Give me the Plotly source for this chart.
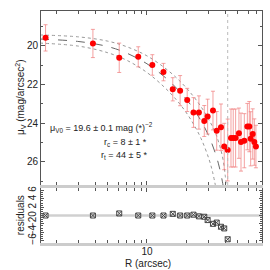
import plotly.graph_objects as go

# ---- data ----
r_obs = [1.66, 3.84, 6.12, 8.57, 11.0, 13.4, 15.8, 18.0, 20.4, 22.8, 25.1, 27.6, 29.3, 32.2,
         34.4, 37.1, 39.3, 41.8, 44.3, 46.1, 48.1, 51.0, 52.9, 56.1, 59.2, 61.3, 62.8, 65.1, 67.0, 68.9]
mu_obs = [19.59, 19.88, 20.62, 20.57, 20.99, 21.36, 22.25, 22.32, 22.80, 23.45, 23.45, 23.89, 23.66, 23.35,
          24.40, 24.21, 25.21, 25.39, 24.77, 24.77, 24.77, 24.52, 24.98, 24.91, 24.18, 24.18, 24.81, 24.56, 24.98, 25.21]
mu_err = [0.68, 0.73, 0.76, 0.52, 0.53, 0.45, 0.6, 0.78, 0.6, 0.77, 0.86, 0.8, 0.9, 1.0,
          1.0, 1.2, 1.2, 1.6, 1.5, 1.5, 1.5, 1.3, 1.5, 1.4, 1.2, 1.3, 1.4, 1.3, 1.2, 1.1]

r_res = r_obs[:18]
residuals = [0.0, 0.0, 0.5, 0.0, 0.0, 0.0, 0.4, 0.0, 0.0, 0.2, -0.2, -0.3, -1.1, -2.0, -1.7, -2.7, -3.1, -5.7]

model_r = [1.5, 3, 5, 7, 10, 14, 18, 22, 26, 30, 34, 36, 38, 39]
model_mu = [19.65, 19.78, 20.04, 20.38, 20.93, 21.67, 22.39, 23.11, 23.87, 24.69, 25.67, 26.27, 27.0, 27.46]
upper_r = [1.5, 3, 5, 7, 10, 14, 18, 22, 26, 30, 34, 38, 40, 41]
upper_mu = [19.44, 19.54, 19.76, 20.05, 20.52, 21.19, 21.84, 22.49, 23.14, 23.83, 24.59, 25.7, 26.7, 27.4]
lower_r = [1.5, 3, 5, 7, 10, 14, 18, 22, 26, 30, 32, 34]
lower_mu = [19.86, 20.02, 20.36, 20.75, 21.38, 22.22, 23.03, 23.87, 24.78, 25.86, 26.54, 27.39]

r_ngc = 41.8
x_major = [10]
x_minor = [2, 3, 4, 5, 6, 7, 8, 9, 20, 30, 40, 50, 60, 70]
mu_ticks = [20, 22, 24, 26]
res_ticks = [-6, -4, -2, 0, 2, 4, 6]
res_labels = ["−6", "−4", "−2", "0", "2", "4", "6"]
annot_lines = ["μ<sub>V0</sub> = 19.6 ± 0.1 mag (*)<sup>−2</sup>", "r<sub>c</sub> = 8 ± 1 *", "r<sub>t</sub> = 44 ± 5 *"]

FONT = "Liberation Sans, Arial, sans-serif"
TXT = "#222222"
AX = "#555555"

fig = go.Figure()

fig.add_trace(go.Scatter(x=upper_r, y=upper_mu, mode="lines", line=dict(color="#999999", width=1, dash="dot"),
                         line_shape="spline", xaxis="x", yaxis="y", showlegend=False))
fig.add_trace(go.Scatter(x=lower_r, y=lower_mu, mode="lines", line=dict(color="#999999", width=1, dash="dot"),
                         line_shape="spline", xaxis="x", yaxis="y", showlegend=False))
fig.add_trace(go.Scatter(x=model_r, y=model_mu, mode="lines", line=dict(color="#666666", width=1, dash="dash"),
                         line_shape="spline", xaxis="x", yaxis="y", showlegend=False))

fig.add_trace(go.Scatter(x=r_obs, y=mu_obs, mode="markers",
                         marker=dict(color="#ff0000", size=6, line=dict(width=0)),
                         error_y=dict(type="data", array=mu_err, color="rgba(240,130,130,0.75)", thickness=1, width=2),
                         xaxis="x", yaxis="y", showlegend=False))

fig.add_trace(go.Scatter(x=r_res, y=residuals, mode="markers",
                         marker=dict(symbol="square-x-open", color="#444444", size=5, line=dict(width=1)),
                         xaxis="x2", yaxis="y2", showlegend=False))

xrange = [0.185, 1.885]
axis_common = dict(showline=True, mirror="ticks", ticks="inside", automargin=False,
                   tickcolor=AX, showgrid=False, zeroline=False,
                   tickfont=dict(family=FONT, size=10, color=TXT))

fig.update_layout(
    width=270, height=270,
    margin=dict(l=41, r=8, t=11, b=27),
    paper_bgcolor="white", plot_bgcolor="white",
    xaxis=dict(type="log", range=xrange, domain=[0, 1], anchor="y", showticklabels=False,
               tickvals=x_major, ticklen=4, linecolor=AX, linewidth=1,
               minor=dict(tickvals=x_minor, ticklen=3, ticks="inside", tickcolor=AX),
               **axis_common),
    yaxis=dict(range=[27.2, 18.2], domain=[0.25, 1], anchor="x", tickvals=mu_ticks, ticklen=4,
               linecolor=AX, linewidth=1,
               minor=dict(dtick=1, ticklen=2, ticks="inside", tickcolor=AX),
               **axis_common),
    xaxis2=dict(type="log", range=xrange, domain=[0, 1], anchor="y2",
                tickvals=x_major, ticklen=4, linecolor="#cccccc", linewidth=2.5, ticklabelstandoff=-3,
                minor=dict(tickvals=x_minor, ticklen=3, ticks="inside", tickcolor=AX),
                **axis_common),
    yaxis2=dict(range=[-6.6, 6.6], domain=[0, 0.237], anchor="x2", tickvals=res_ticks,
                ticktext=res_labels, tickangle=-90, ticklen=3, linecolor=AX, linewidth=1,
                minor=dict(dtick=0.5, ticklen=2, ticks="inside", tickcolor=AX),
                **axis_common),
    shapes=[
        dict(type="line", xref="x", yref="y domain", x0=r_ngc, x1=r_ngc, y0=0, y1=1,
             line=dict(color="#bbbbbb", width=1, dash="dot")),
        dict(type="line", xref="x2 domain", yref="y2", x0=0, x1=1, y0=0, y1=0,
             line=dict(color="#d0d0d0", width=2.5), layer="below"),
    ],
    annotations=[
        dict(text="NGC2241", xref="x", yref="paper", x=r_ngc, y=1, xanchor="right", yanchor="top",
             yshift=-5, showarrow=False, font=dict(family=FONT, size=10, color=TXT)),
        dict(text=annot_lines[0], xref="paper", yref="paper", x=0.5, y=0.496, xanchor="right", yanchor="middle",
             xshift=3, showarrow=False, font=dict(family=FONT, size=9, color=TXT)),
        dict(text=annot_lines[1], xref="paper", yref="paper", x=0.5, y=0.435, xanchor="right", yanchor="middle",
             xshift=-3, showarrow=False, font=dict(family=FONT, size=9, color=TXT)),
        dict(text=annot_lines[2], xref="paper", yref="paper", x=0.5, y=0.379, xanchor="right", yanchor="middle",
             xshift=-3, showarrow=False, font=dict(family=FONT, size=9, color=TXT)),
        dict(text="μ<sub>V</sub> (mag/arcsec<sup>2</sup>)", xref="paper", yref="paper", x=-0.095, y=0.625,
             xanchor="center", yanchor="middle",
             textangle=-90, showarrow=False, font=dict(family=FONT, size=10, color=TXT)),
        dict(text="residuals", xref="paper", yref="paper", x=-0.095, y=0.12,
             xanchor="center", yanchor="middle",
             textangle=-90, showarrow=False, font=dict(family=FONT, size=10, color=TXT)),
        dict(text="R (arcsec)", xref="paper", yref="paper", x=0.484, y=-0.088,
             xanchor="center", yanchor="middle",
             showarrow=False, font=dict(family=FONT, size=10, color=TXT)),
    ],
)

fig.write_html("out.html", config={"displayModeBar": False},
               post_script="document.body.style.margin='0px';document.body.style.padding='0px';")
